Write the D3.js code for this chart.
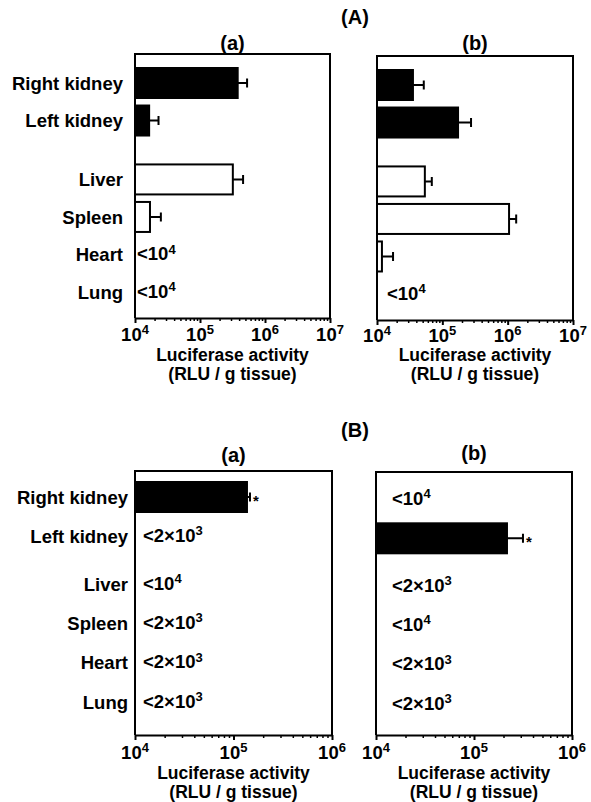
<!DOCTYPE html>
<html>
<head>
<meta charset="utf-8">
<script src="https://cdn.jsdelivr.net/npm/d3@7"></script>
<style>
  body { margin: 0; background: #fff; }
  text { font-family: "Liberation Sans", Arial, sans-serif; font-weight: bold; fill: #000; }
</style>
</head>
<body>
<svg id="fig" width="591" height="802"></svg>
<script>
// organs, top to bottom
var organs = ["Right kidney", "Left kidney", "Liver", "Spleen", "Heart", "Lung"];
var barFill = ["#000", "#000", "#fff", "#fff", "#fff", "#fff"];

// (A)(a) mean and mean+SD, RLU / g tissue
var aaValues = [3.8e5, 1.65e4, 3.2e5, 1.7e4, null, null];
var aaUpper  = [5.3e5, 2.3e4, 4.6e5, 2.5e4, null, null];
var aaNotes  = [null, null, null, null, "<10^4", "<10^4"];

// (A)(b)
var abValues = [3.55e4, 1.74e5, 5.4e4, 1.05e6, 1.19e4, null];
var abUpper  = [5.2e4, 2.75e5, 6.9e4, 1.35e6, 1.76e4, null];
var abNotes  = [null, null, null, null, null, "<10^4"];

// (B)(a)
var baValues = [1.37e5, null, null, null, null, null];
var baUpper  = [1.47e5, null, null, null, null, null];
var baNotes  = [null, "<2×10^3", "<10^4", "<2×10^3", "<2×10^3", "<2×10^3"];
var baStars  = [true, false, false, false, false, false];

// (B)(b)
var bbValues = [null, 2.17e5, null, null, null, null];
var bbUpper  = [null, 3.16e5, null, null, null, null];
var bbNotes  = ["<10^4", null, "<2×10^3", "<10^4", "<2×10^3", "<2×10^3"];
var bbStars  = [false, true, false, false, false, false];

// axis ticks
var ticksA = [1e4, 1e5, 1e6, 1e7];
var ticksB = [1e4, 1e5, 1e6];
var axisTitle = ["Luciferase activity", "(RLU / g tissue)"];

var svg = d3.select("#fig");
var fs = 18.5; // main font size

// text with a superscript part after "^"
function supText(sel, str, big, small) {
  var parts = str.split("^");
  sel.append("tspan").style("font-size", big + "px").text(parts[0]);
  if (parts.length > 1) {
    sel.append("tspan").style("font-size", small + "px")
      .attr("dy", -big * 0.36).text(parts[1]);
  }
}

function drawPanel(p) {
  var g = svg.append("g");
  var x = d3.scaleLog().domain(p.domain).range([p.x0, p.x1]);
  var y = d3.scaleLinear().domain([0, 5 + p.gap]).range([p.firstY, p.lastY]);
  var slot = function(i) { return y(i + (i >= 2 ? p.gap : 0)); };
  var bh = 30;

  // minor + major ticks
  var minor = [];
  for (var e = Math.log10(p.domain[0]); e < Math.log10(p.domain[1]); e++) {
    for (var k = 2; k <= 9; k++) minor.push(k * Math.pow(10, e));
  }
  g.append("g")
    .attr("transform", "translate(0," + p.bottom + ")")
    .call(d3.axisBottom(x).tickValues(minor).tickSize(3).tickSizeOuter(0).tickFormat(""))
    .call(function(a) { a.select(".domain").remove(); })
    .selectAll("line").attr("stroke-width", 1.5);
  g.append("g")
    .attr("transform", "translate(0," + p.bottom + ")")
    .call(d3.axisBottom(x).tickValues(p.ticks).tickSize(5).tickSizeOuter(0).tickFormat(""))
    .call(function(a) { a.select(".domain").attr("stroke-width", 2); })
    .selectAll("line").attr("stroke-width", 2);

  // frame
  g.append("path")
    .attr("d", "M" + p.x0 + "," + p.bottom + "V" + p.top + "H" + p.x1 + "V" + p.bottom)
    .attr("fill", "none").attr("stroke", "#000").attr("stroke-width", 2);

  // tick labels
  p.ticks.forEach(function(t) {
    var tx = g.append("text").attr("x", x(t)).attr("y", p.bottom + p.tickDy)
      .attr("text-anchor", "middle");
    supText(tx, "10^" + Math.round(Math.log10(t)), fs, 13);
  });

  // axis title, two lines
  var cx = (p.x0 + p.x1) / 2;
  axisTitle.forEach(function(line, i) {
    g.append("text").attr("x", cx).attr("y", p.bottom + p.titleDy - 2 + i * 19)
      .attr("text-anchor", "middle").style("font-size", "17.5px").text(line);
  });

  // panel letter
  g.append("text").attr("x", cx).attr("y", p.letterY)
    .attr("text-anchor", "middle").style("font-size", "20px").text(p.letter);

  // category labels
  if (p.labelX) {
    g.selectAll(".cat").data(organs).enter().append("text")
      .attr("class", "cat")
      .attr("x", p.labelX)
      .attr("y", function(d, i) { return slot(i); })
      .attr("dy", "0.36em")
      .attr("text-anchor", "end")
      .style("font-size", fs + "px")
      .text(function(d) { return d; });
  }

  var rows = organs.map(function(d, i) {
    return { i: i, v: p.values[i], up: p.upper[i], note: p.notes[i], star: p.stars ? p.stars[i] : false };
  });
  var withBar = rows.filter(function(d) { return d.v != null; });

  // error bars (upper side only)
  g.selectAll(".err").data(withBar).enter().append("path")
    .attr("d", function(d) {
      var cy = slot(d.i);
      return "M" + x(d.v) + "," + cy + "H" + x(d.up) + "M" + x(d.up) + "," + (cy - 4.5) + "V" + (cy + 4.5);
    })
    .attr("fill", "none").attr("stroke", "#000").attr("stroke-width", 2);

  // bars
  g.selectAll(".bar").data(withBar).enter().append("rect")
    .attr("x", x(p.domain[0]))
    .attr("y", function(d) { return slot(d.i) - bh / 2; })
    .attr("width", function(d) { return x(d.v) - x(p.domain[0]); })
    .attr("height", bh)
    .attr("fill", function(d) { return barFill[d.i]; })
    .attr("stroke", "#000").attr("stroke-width", 2);

  // asterisks
  g.selectAll(".star").data(withBar.filter(function(d) { return d.star; })).enter().append("text")
    .attr("x", function(d) { return x(d.up) + 3; })
    .attr("y", function(d) { return slot(d.i) + 9; })
    .style("font-size", "15px").text("*");

  // below-detection notes
  rows.filter(function(d) { return d.note; }).forEach(function(d) {
    var tx = g.append("text").attr("x", p.x0 + p.noteDx).attr("y", slot(d.i)).attr("dy", "0.36em");
    supText(tx, d.note, fs, 13);
  });
}

svg.append("text").attr("x", 355).attr("y", 24).attr("text-anchor", "middle")
  .style("font-size", "20px").text("(A)");
svg.append("text").attr("x", 355).attr("y", 437).attr("text-anchor", "middle")
  .style("font-size", "20px").text("(B)");

drawPanel({ letter: "(a)", letterY: 50, domain: [1e4, 1e7], ticks: ticksA,
  x0: 135, x1: 330, top: 54, bottom: 318, firstY: 83, lastY: 292, gap: 0.57,
  tickDy: 23, titleDy: 45, labelX: 123, noteDx: 2,
  values: aaValues, upper: aaUpper, notes: aaNotes });
drawPanel({ letter: "(b)", letterY: 50, domain: [1e4, 1e7], ticks: ticksA,
  x0: 377, x1: 573, top: 56, bottom: 320, firstY: 85, lastY: 294, gap: 0.57,
  tickDy: 22, titleDy: 43, noteDx: 10,
  values: abValues, upper: abUpper, notes: abNotes });
drawPanel({ letter: "(a)", letterY: 462, domain: [1e4, 1e6], ticks: ticksB,
  x0: 135, x1: 332, top: 471, bottom: 735, firstY: 497, lastY: 702, gap: 0.215,
  tickDy: 24, titleDy: 46, labelX: 128, noteDx: 8,
  values: baValues, upper: baUpper, notes: baNotes, stars: baStars });
drawPanel({ letter: "(b)", letterY: 460, domain: [1e4, 1e6], ticks: ticksB,
  x0: 376, x1: 572, top: 472, bottom: 735, firstY: 499, lastY: 704, gap: 0.215,
  tickDy: 24, titleDy: 46, noteDx: 16,
  values: bbValues, upper: bbUpper, notes: bbNotes, stars: bbStars });
</script>
</body>
</html>
